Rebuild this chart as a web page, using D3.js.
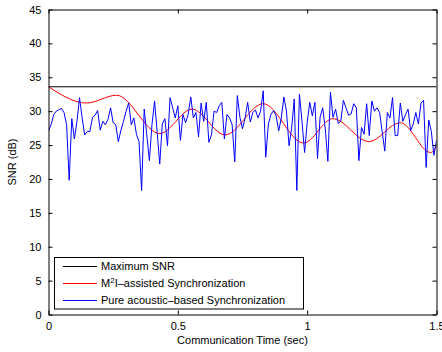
<!DOCTYPE html>
<html>
<head>
<meta charset="utf-8">
<script src="https://cdn.jsdelivr.net/npm/d3@7"></script>
<style>
  html, body { margin: 0; padding: 0; background: #fff; }
  svg { display: block; font-family: "Liberation Sans", Arial, Helvetica, sans-serif; }
</style>
</head>
<body>
<svg id="chart" width="442" height="352"></svg>
<script>
// Time axis (seconds) and tick labels
const xTicks = [0, 0.5, 1, 1.5];
const xTickLabels = ["0", "0.5", "1", "1.5"];
const yTicks = [0, 5, 10, 15, 20, 25, 30, 35, 40, 45];
const yTickLabels = ["0", "5", "10", "15", "20", "25", "30", "35", "40", "45"];

// Maximum achievable SNR (dB)
const maxSNR = 33.6;

// M²I-assisted synchronization: turning points of the smooth SNR curve
const m2iTime = [0, 0.147, 0.263, 0.43, 0.555, 0.683, 0.83, 0.986, 1.1, 1.238, 1.36, 1.478, 1.5];
const m2iSNR  = [33.6, 31.2, 32.35, 26.7, 30.3, 26.5, 31.1, 25.3, 28.9, 25.5, 28.3, 23.9, 24.9];

// Pure acoustic-based synchronization: SNR sampled every 10 ms from 0 to 1.5 s
const acousticStep = 0.01;
const acousticSNR = [
  27.1, 28.0, 29.5, 30.0, 30.2, 30.4, 29.8, 28.0, 19.8, 28.9,
  25.9, 28.5, 32.0, 29.0, 26.5, 27.0, 27.0, 29.1, 29.4, 30.1,
  27.2, 28.5, 28.0, 28.8, 30.5, 28.3, 28.0, 25.5, 27.2, 28.5,
  30.0, 31.2, 28.0, 29.0, 26.6, 25.5, 18.3, 30.3, 26.5, 22.7,
  28.0, 31.5, 27.0, 22.2, 28.1, 28.9, 24.9, 32.0, 30.5, 29.0,
  30.8, 25.7, 29.5, 28.3, 29.5, 32.1, 29.0, 29.8, 26.2, 31.2,
  28.5, 31.3, 25.4, 26.5, 30.0, 29.8, 30.8, 31.3, 25.9, 29.5,
  29.0, 28.0, 22.5, 32.3, 29.1, 27.4, 29.0, 31.3, 28.4, 29.8,
  30.2, 29.0, 30.0, 33.0, 23.2, 28.1, 29.5, 30.1, 29.3, 27.1,
  29.0, 32.1, 30.0, 24.9, 27.5, 31.8, 18.3, 32.5, 28.5, 23.9,
  28.3, 31.3, 29.3, 31.3, 23.0, 29.1, 30.5, 27.4, 22.6, 32.8,
  29.1, 30.3, 28.2, 28.5, 31.6, 30.5, 29.4, 29.6, 31.1, 30.5,
  22.7, 27.6, 26.6, 31.1, 26.4, 31.5, 30.0, 30.5, 29.8, 27.0,
  24.1, 29.8, 29.0, 32.0, 26.4, 26.4, 31.2, 28.5, 29.5, 30.3,
  27.1, 28.1, 29.8, 28.1, 31.2, 31.6, 21.7, 28.7, 27.0, 23.5,
  25.7
];

const legendLabels = ["Maximum SNR", "M2I-assisted Synchronization", "Pure acoustic\u2013based Synchronization"];
const seriesColors = ["#000000", "#ff0000", "#0000ff"];

const svg = d3.select("#chart");
const plot = { left: 48.5, right: 436.5, top: 9.5, bottom: 314.5 };

const x = d3.scaleLinear().domain([0, 1.5]).range([plot.left, plot.right]);
const y = d3.scaleLinear().domain([0, 45]).range([plot.bottom, plot.top]);

const g = svg.append("g");

// Clip lines to the axes box
svg.append("defs").append("clipPath").attr("id", "plotClip")
  .append("rect")
  .attr("x", plot.left).attr("y", plot.top)
  .attr("width", plot.right - plot.left).attr("height", plot.bottom - plot.top);

const lines = g.append("g").attr("clip-path", "url(#plotClip)");

// Maximum SNR
lines.append("line")
  .attr("x1", x(0)).attr("x2", x(1.5))
  .attr("y1", y(maxSNR)).attr("y2", y(maxSNR))
  .attr("stroke", seriesColors[0]).attr("stroke-width", 1);

// M²I-assisted curve
const m2iData = m2iTime.map((t, i) => [t, m2iSNR[i]]);
lines.append("path")
  .datum(m2iData)
  .attr("fill", "none")
  .attr("stroke", seriesColors[1])
  .attr("stroke-width", 1)
  .attr("d", d3.line().x(d => x(d[0])).y(d => y(d[1])).curve(d3.curveMonotoneX));

// Pure acoustic curve
lines.append("path")
  .datum(acousticSNR)
  .attr("fill", "none")
  .attr("stroke", seriesColors[2])
  .attr("stroke-width", 1)
  .attr("stroke-linejoin", "miter")
  .attr("d", d3.line().x((d, i) => x(i * acousticStep)).y(d => y(d)));

// Axes: Matlab-style box with inward ticks on all sides
const tickLen = 4;
const fontSize = 11;

const xAxisB = d3.axisBottom(x).tickValues(xTicks).tickFormat((d, i) => xTickLabels[i])
  .tickSizeInner(-tickLen).tickSizeOuter(0).tickPadding(8);
const xAxisT = d3.axisTop(x).tickValues(xTicks).tickFormat("")
  .tickSizeInner(-tickLen).tickSizeOuter(0);
const yAxisL = d3.axisLeft(y).tickValues(yTicks).tickFormat((d, i) => yTickLabels[i])
  .tickSizeInner(-tickLen).tickSizeOuter(0).tickPadding(7);
const yAxisR = d3.axisRight(y).tickValues(yTicks).tickFormat("")
  .tickSizeInner(-tickLen).tickSizeOuter(0);

function styleAxis(sel) {
  sel.selectAll("path.domain").attr("stroke", "#000").attr("stroke-width", 1);
  sel.selectAll(".tick line").attr("stroke", "#000").attr("stroke-width", 1);
  sel.selectAll(".tick text").attr("fill", "#000").attr("font-size", fontSize)
    .attr("font-family", "Liberation Sans, Arial, Helvetica, sans-serif");
}

g.append("g").attr("transform", `translate(0,${plot.bottom})`).call(xAxisB).call(styleAxis);
g.append("g").attr("transform", `translate(0,${plot.top})`).call(xAxisT).call(styleAxis);
g.append("g").attr("transform", `translate(${plot.left},0)`).call(yAxisL).call(styleAxis);
g.append("g").attr("transform", `translate(${plot.right},0)`).call(yAxisR).call(styleAxis);

// Axis titles
g.append("text")
  .attr("x", (plot.left + plot.right) / 2).attr("y", 344)
  .attr("text-anchor", "middle").attr("font-size", fontSize).attr("fill", "#000")
  .text("Communication Time (sec)");

g.append("text")
  .attr("transform", `translate(16,${(plot.top + plot.bottom) / 2}) rotate(-90)`)
  .attr("text-anchor", "middle").attr("font-size", fontSize).attr("fill", "#000")
  .text("SNR (dB)");

// Legend
const legend = g.append("g");
legend.append("rect")
  .attr("x", 54.5).attr("y", 257.5).attr("width", 249).attr("height", 51.5)
  .attr("fill", "#fff").attr("stroke", "#000").attr("stroke-width", 1);

const rowY = [266, 283, 300];
legendLabels.forEach((label, i) => {
  legend.append("line")
    .attr("x1", 63).attr("x2", 97)
    .attr("y1", rowY[i] + 0.5).attr("y2", rowY[i] + 0.5)
    .attr("stroke", seriesColors[i]).attr("stroke-width", 1);
  const t = legend.append("text")
    .attr("x", 101).attr("y", rowY[i] + 4)
    .attr("font-size", fontSize).attr("fill", "#000");
  if (i === 1) {
    t.append("tspan").text("M");
    t.append("tspan").attr("dy", -4).attr("font-size", 8).text("2");
    t.append("tspan").attr("dy", 4).text("I\u2013assisted Synchronization");
  } else {
    t.text(label);
  }
});
</script>
</body>
</html>
